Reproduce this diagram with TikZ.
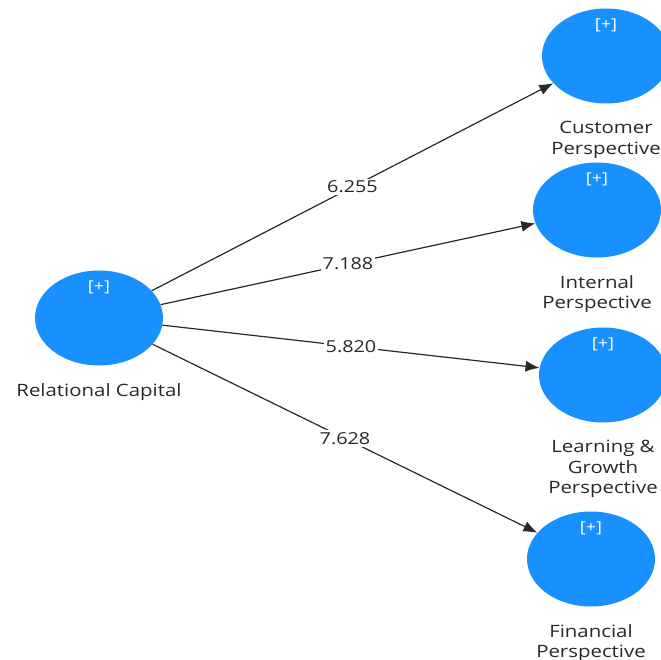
\documentclass[tikz,border=0pt]{standalone}
\usepackage{fontspec}
\setmainfont{Open Sans}[FakeStretch=1.2]
\usetikzlibrary{shapes.geometric,positioning,arrows.meta}
\definecolor{azulpls}{RGB}{24,144,255}
\definecolor{cinza}{RGB}{40,40,40}

\begin{document}
\begin{tikzpicture}[x=1pt,y=-1pt]
\tikzstyle{latent}=[ellipse, fill=azulpls, minimum width=128pt, minimum height=95pt, inner sep=0pt]
\tikzstyle{plus}=[text=white, inner sep=0pt, font=\fontsize{15}{17}\selectfont]
\tikzstyle{nome}=[text=cinza, align=center, inner sep=0pt, font=\fontsize{17}{20.5}\selectfont]
\tikzstyle{peso}=[fill=white, text=cinza, inner sep=2pt, font=\fontsize{16.5}{20}\selectfont]
\tikzstyle{seta}=[draw=cinza, line width=1.2pt, -{Latex[length=14pt,width=11pt]}]
 \clip (0,0) rectangle (661,660);
 % constructs
 \node[latent] (rc) at (99,318) {};
 \node[latent] (cust) at (606,56) {};
 \node[latent] (intl) at (597,210) {};
 \node[latent] (learn) at (603,375) {};
 \node[latent] (fin) at (591,559) {};
 \node[plus] (rcplus) at ([yshift=31pt]rc.center) {[+]};
 \node[plus] (custplus) at ([yshift=31pt]cust.center) {[+]};
 \node[plus] (intlplus) at ([yshift=31pt]intl.center) {[+]};
 \node[plus] (learnplus) at ([yshift=31pt]learn.center) {[+]};
 \node[plus] (finplus) at ([yshift=31pt]fin.center) {[+]};
 \node[nome, below=17.5pt of rc] (rcname) {Relational Capital};
 \node[nome, below=17.5pt of cust] (custname) {Customer\\Perspective};
 \node[nome, below=17.5pt of intl] (intlname) {Internal\\Perspective};
 \node[nome, below=17.5pt of learn] (learnname) {Learning \&\\Growth\\Perspective};
 \node[nome, below=17.5pt of fin] (finname) {Financial\\Perspective};
 % paths
 \draw[seta] (rc) -- node[peso] (w1) {6.255} (cust);
 \draw[seta] (rc) -- node[peso] (w2) {7.188} (intl);
 \draw[seta] (rc) -- node[peso] (w3) {5.820} (learn);
 \draw[seta] (rc) -- node[peso] (w4) {7.628} (fin);
\end{tikzpicture}
\end{document}
